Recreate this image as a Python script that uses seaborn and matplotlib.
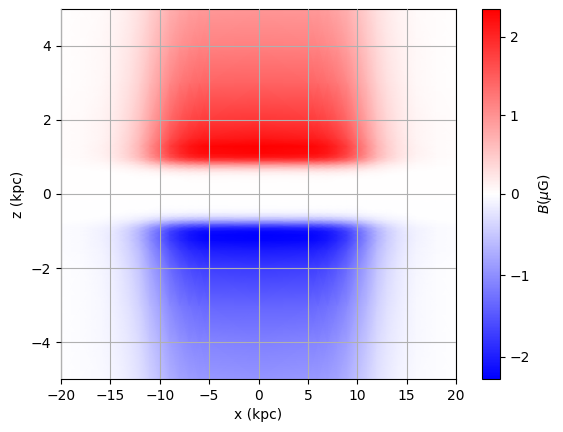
import numpy as np
import matplotlib
matplotlib.use("Agg")
import matplotlib.pyplot as plt
from matplotlib.colors import TwoSlopeNorm
import seaborn as sns

x_kpc = [-20, -18, -16, -15, -14, -13, -12, -11, -10, -9, -8, -7, -6, -5, 0,
         5, 6, 7, 8, 9, 10, 11, 12, 13, 14, 15, 16, 18, 20]
x_rel = [0.01, 0.02, 0.05, 0.08, 0.13, 0.2, 0.3, 0.45, 0.6, 0.75, 0.85, 0.92, 0.96, 0.98, 1.0,
         0.98, 0.96, 0.92, 0.85, 0.75, 0.6, 0.45, 0.3, 0.2, 0.13, 0.08, 0.05, 0.02, 0.01]

z_kpc = [-5, -4, -3, -2, -1.5, -1.25, -1.1, -1.0, -0.9, -0.8, -0.7, -0.6, -0.5, -0.4, -0.3, 0,
         0.3, 0.4, 0.5, 0.6, 0.7, 0.8, 0.9, 1.0, 1.1, 1.3, 1.5, 2, 3, 4, 5]
b_center = [-0.94, -1.12, -1.38, -1.74, -2.05, -2.25, -2.27, -2.2, -1.9, -1.3, -0.7, -0.3, -0.1, -0.03, -0.01, 0,
            0.01, 0.02, 0.07, 0.2, 0.5, 1.0, 1.7, 2.15, 2.3, 2.35, 2.15, 1.85, 1.45, 1.17, 0.97]

b_min, b_max = -2.27, 2.35

sns.set_style("ticks", {"axes.edgecolor": "black", "xtick.color": "black",
                        "ytick.color": "black", "text.color": "black",
                        "axes.labelcolor": "black"})
plt.rcParams["font.family"] = ["DejaVu Sans"]

B = np.outer(b_center, x_rel)
cmap = sns.color_palette("bwr", as_cmap=True)
norm = TwoSlopeNorm(vmin=b_min, vcenter=0, vmax=b_max)

fig = plt.figure(figsize=(5.63, 4.32), dpi=100)
ax = fig.add_axes([61 / 563, 53 / 432, 395 / 563, 370 / 432])
cax = fig.add_axes([482 / 563, 53 / 432, 18 / 563, 370 / 432])

mesh = ax.pcolormesh(x_kpc, z_kpc, B, shading="gouraud", cmap=cmap, norm=norm)
ax.set_xlim(-20, 20)
ax.set_ylim(-5, 5)
ax.set_xticks(range(-20, 21, 5))
ax.set_yticks(range(-4, 5, 2))
ax.set_axisbelow(False)
ax.grid(True, color="#b0b0b0", linewidth=0.8)
ax.set_xlabel("x (kpc)")
ax.set_ylabel("z (kpc)")

cb = fig.colorbar(mesh, cax=cax)
cb.set_ticks([-2, -1, 0, 1, 2])
cb.set_label(r"$B(\mu$G)")
cb.outline.set_edgecolor("black")

fig.savefig("out.png", dpi=100)
